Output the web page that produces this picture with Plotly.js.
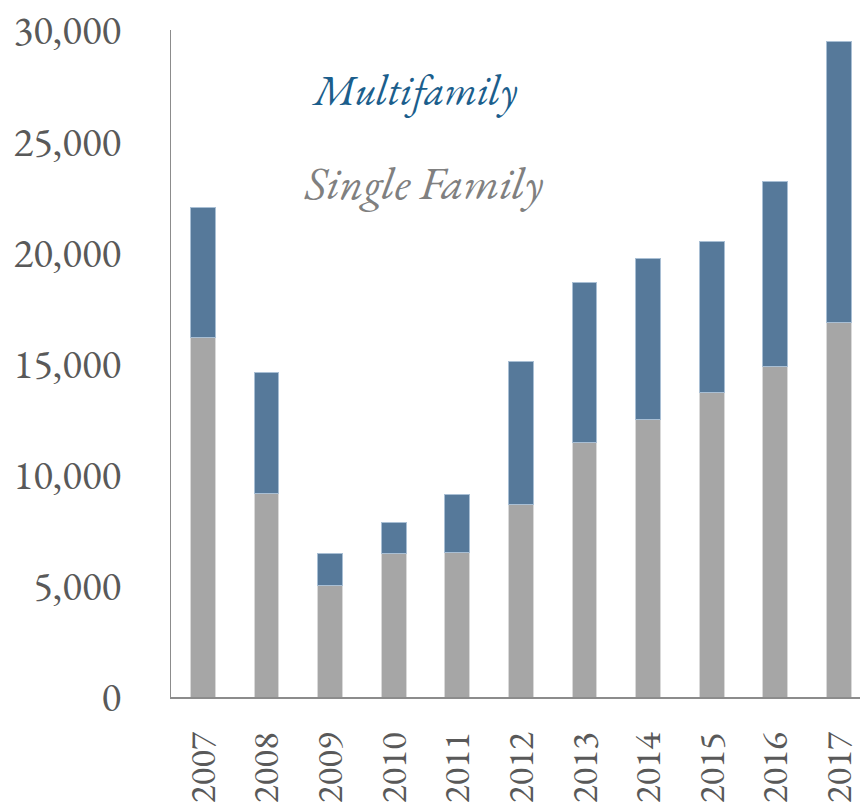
<!DOCTYPE html>
<html>
<head>
<meta charset="utf-8">
<script src="https://cdn.plot.ly/plotly-3.0.1.min.js"></script>
<style>html,body{margin:0;padding:0;background:#fff;}#chart{width:860px;height:809px;}</style>
</head>
<body>
<div id="chart"></div>
<script>
const years = ['2007','2008','2009','2010','2011','2012','2013','2014','2015','2016','2017'];
const singleFamily = [16170, 9170, 5015, 6470, 6500, 8660, 11435, 12480, 13680, 14865, 16845];
const totalUnits = [22000, 14595, 6470, 7835, 9095, 15105, 18645, 19735, 20500, 23175, 29470];
const multifamily = totalUnits.map((t, i) => t - singleFamily[i]);
const yTicks = [0, 5000, 10000, 15000, 20000, 25000, 30000];
const yTickText = ['0', '5,000', '10,000', '15,000', '20,000', '25,000', '30,000'];

const serif = 'Garamond, "EB Garamond", "Liberation Serif", serif';

const traces = [
  {
    type: 'bar', name: 'Single Family', x: years, y: singleFamily,
    marker: {color: '#a6a6a6', line: {color: '#d9d9d9', width: 1}},
    width: 0.39, hoverinfo: 'x+y'
  },
  {
    type: 'bar', name: 'Multifamily', x: years, y: multifamily,
    marker: {color: '#56799a', line: {color: '#a9bfd4', width: 1}},
    width: 0.39, hoverinfo: 'x+y'
  }
];

const layout = {
  width: 860, height: 809,
  margin: {l: 171, r: 0, t: 30, b: 112},
  barmode: 'stack',
  showlegend: false,
  paper_bgcolor: '#ffffff',
  plot_bgcolor: '#ffffff',
  xaxis: {
    type: 'category',
    range: [-0.5, 10.33],
    tickangle: -90,
    tickfont: {family: serif, size: 37, color: '#595959'},
    showline: true, linecolor: '#8c8c8c', linewidth: 1.5,
    showgrid: false, zeroline: false, ticks: '',
    ticklabelstandoff: 19,
    fixedrange: true
  },
  yaxis: {
    range: [0, 30000],
    tickvals: yTicks, ticktext: yTickText,
    tickfont: {family: serif, size: 41, color: '#595959'},
    showline: true, linecolor: '#8c8c8c', linewidth: 1.5,
    showgrid: false, zeroline: false, ticks: '',
    ticklabelstandoff: 40,
    fixedrange: true
  },
  annotations: [
    {text: '<i>Multifamily</i>', xref: 'paper', yref: 'paper', x: 0.2, y: 0.91,
     xanchor: 'left', yanchor: 'middle', showarrow: false,
     font: {family: serif, size: 42, color: '#1b5e8c'}},
    {text: '<i>Single Family</i>', xref: 'paper', yref: 'paper', x: 0.19, y: 0.771,
     xanchor: 'left', yanchor: 'middle', showarrow: false,
     font: {family: serif, size: 46, color: '#808080'}}
  ]
};

Plotly.newPlot('chart', traces, layout, {displayModeBar: false, staticPlot: true});
</script>
</body>
</html>
